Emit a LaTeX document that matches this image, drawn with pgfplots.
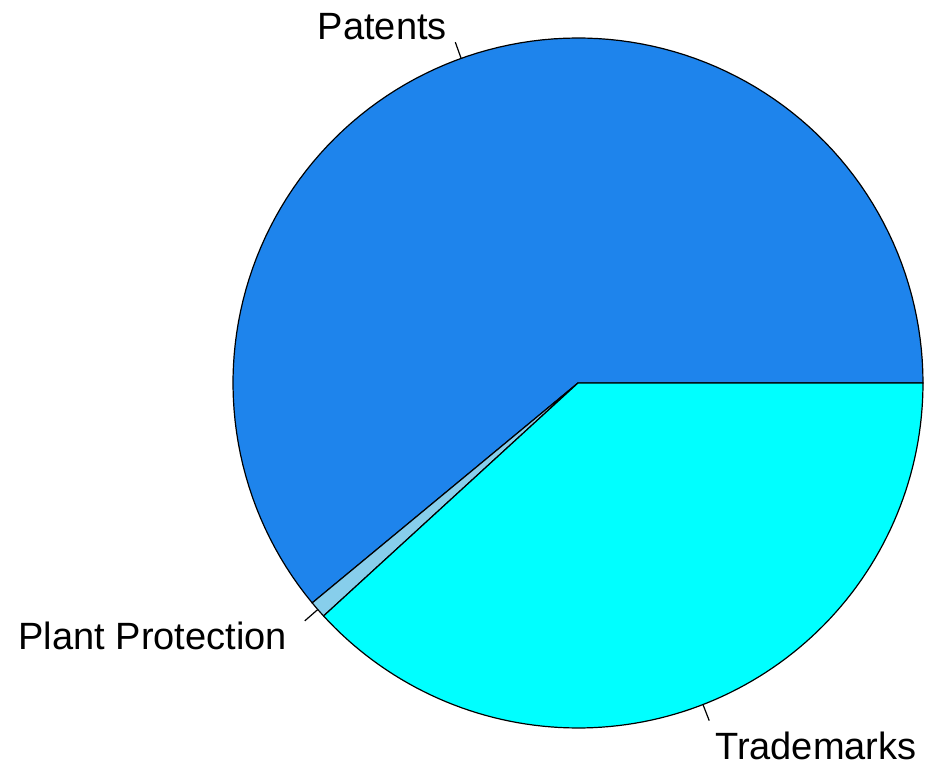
\documentclass[border=0pt]{standalone}
\usepackage{pgfplots}
\pgfplotsset{compat=1.18}
\usepackage{fontspec}
\setmainfont{Liberation Sans}
\definecolor{cPat}{RGB}{30,132,236}
\definecolor{cPlant}{RGB}{135,206,235}
\definecolor{cTrade}{RGB}{0,255,255}
% shares (percent)
\def\vPat{61.0}
\def\vPlant{0.8}
\def\vTrade{38.2}
\pgfmathsetmacro{\aA}{\vPat*3.6}
\pgfmathsetmacro{\aB}{(\vPat+\vPlant)*3.6}
\pgfmathsetmacro{\mA}{\aA/2}
\pgfmathsetmacro{\mB}{(\aA+\aB)/2}
\pgfmathsetmacro{\mC}{(\aB+360)/2}
\def\R{345}
\begin{document}
\begin{tikzpicture}
\begin{axis}[
  x=1pt, y=1pt,
  xmin=-578, xmax=349, ymin=-385, ymax=383,
  hide axis, clip=false,
]
\addplot[draw=none] coordinates {(-578,-385) (349,383)};
\addplot[fill=cPat, draw=black, line width=1.2pt, domain=0:\aA, samples=120, variable=\t] ({\R*cos(t)},{\R*sin(t)}) -- (axis cs:0,0) -- cycle;
\addplot[fill=cPlant, draw=black, line width=1.2pt, domain=\aA:\aB, samples=5, variable=\t] ({\R*cos(t)},{\R*sin(t)}) -- (axis cs:0,0) -- cycle;
\addplot[fill=cTrade, draw=black, line width=1.2pt, domain=\aB:360, samples=100, variable=\t] ({\R*cos(t)},{\R*sin(t)}) -- (axis cs:0,0) -- cycle;
% label ticks
\draw[line width=1.2pt] (axis cs:{\R*cos(\mA)},{\R*sin(\mA)}) -- (axis cs:{1.05*\R*cos(\mA)},{1.05*\R*sin(\mA)});
\draw[line width=1.2pt] (axis cs:{\R*cos(\mB)},{\R*sin(\mB)}) -- (axis cs:{1.05*\R*cos(\mB)},{1.05*\R*sin(\mB)});
\draw[line width=1.2pt] (axis cs:{\R*cos(\mC)},{\R*sin(\mC)}) -- (axis cs:{1.05*\R*cos(\mC)},{1.05*\R*sin(\mC)});
\node[anchor=base east, inner sep=0pt, font=\fontsize{38}{46}\selectfont] at (axis cs:-131,343) {Patents};
\node[anchor=base east, inner sep=0pt, font=\fontsize{38}{46}\selectfont] at (axis cs:-291,-267) {Plant Protection};
\node[anchor=base west, inner sep=0pt, font=\fontsize{38}{46}\selectfont] at (axis cs:137,-377) {Trademarks};
\end{axis}
\end{tikzpicture}
\end{document}
